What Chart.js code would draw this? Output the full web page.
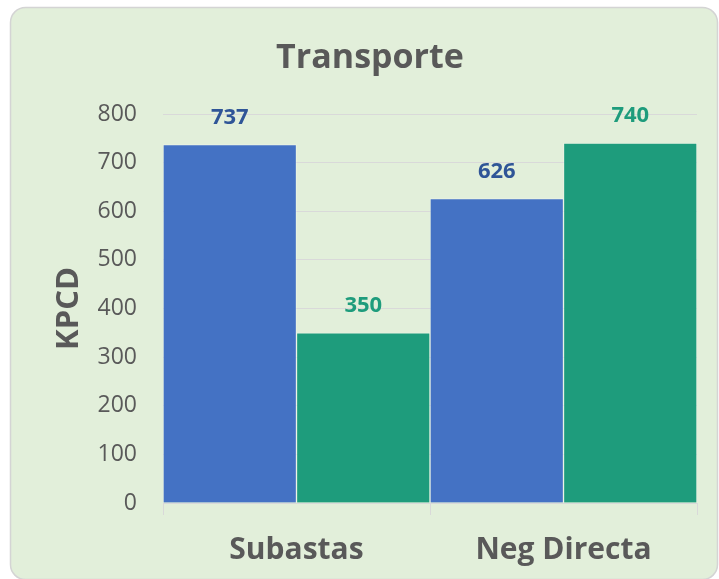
<!DOCTYPE html>
<html><head><meta charset="utf-8">
<script src="https://cdn.jsdelivr.net/npm/chart.js@4"></script>
<style>html,body{margin:0;padding:0;background:#fff;}</style>
</head><body>
<canvas id="c" width="719" height="579"></canvas>
<script>
const categories = ['Subastas', 'Neg Directa'];
const seriesBlue = [737, 626];
const seriesTeal = [350, 740];
const yMin = 0, yMax = 800, yStep = 100;
const titleText = 'Transporte';
const yTitle = 'KPCD';

const FONT = "'Open Sans', sans-serif";
const GREY = '#595959';

const cardPlugin = {
  id: 'card',
  beforeDraw(chart) {
    const ctx = chart.ctx;
    ctx.save();
    ctx.beginPath();
    ctx.roundRect(10.5, 7.5, 707, 572, 15);
    ctx.fillStyle = '#E2EFDA';
    ctx.fill();
    ctx.lineWidth = 1.5;
    ctx.strokeStyle = '#D4D4D4';
    ctx.stroke();
    ctx.restore();
  }
};

const labelPlugin = {
  id: 'barLabels',
  afterDatasetsDraw(chart) {
    const ctx = chart.ctx;
    ctx.save();
    ctx.font = "bold 22px " + FONT;
    ctx.textAlign = 'center';
    ctx.textBaseline = 'middle';
    chart.data.datasets.forEach((ds, di) => {
      const meta = chart.getDatasetMeta(di);
      meta.data.forEach((el, i) => {
        ctx.fillStyle = ds.labelColor;
        ctx.fillText(String(ds.data[i]), el.x, el.y - 27);
      });
    });
    ctx.restore();
  }
};

new Chart(document.getElementById('c'), {
  type: 'bar',
  data: {
    labels: categories,
    datasets: [
      { data: seriesBlue, backgroundColor: '#4472C4', borderColor: 'rgba(255,255,255,0.3)', borderWidth: 1, labelColor: '#2F5597' },
      { data: seriesTeal, backgroundColor: '#1E9C7C', borderColor: 'rgba(255,255,255,0.3)', borderWidth: 1, labelColor: '#1E9C7C' }
    ]
  },
  options: {
    responsive: false,
    animation: false,
    layout: { padding: { left: 43, right: 22, top: 0, bottom: 0 } },
    datasets: { bar: { barPercentage: 1, categoryPercentage: 1 } },
    plugins: {
      legend: { display: false },
      tooltip: { enabled: false },
      title: {
        display: true,
        text: titleText,
        color: GREY,
        font: { family: FONT, size: 34, weight: 'bold', lineHeight: 1.2 },
        padding: { top: 38, bottom: 35.2 }
      }
    },
    scales: {
      x: {
        grid: { offset: true, drawOnChartArea: false, drawTicks: true, tickLength: 12, color: '#D9D9D9' },
        border: { display: true, color: '#D9D9D9' },
        ticks: { color: GREY, font: { family: FONT, size: 30, weight: 'bold' }, padding: 17 },
        afterFit(s) { s.height = 76; }
      },
      y: {
        min: yMin, max: yMax,
        ticks: { stepSize: yStep, color: GREY, font: { family: FONT, size: 23 }, padding: 26 },
        grid: { color: '#D9D9D9', drawTicks: false },
        border: { display: false },
        title: { display: true, text: yTitle, color: GREY, font: { family: FONT, size: 31, weight: 'bold' }, padding: { top: 7.5, bottom: 0 } },
        afterFit(s) { s.width = 120; }
      }
    }
  },
  plugins: [cardPlugin, labelPlugin]
});
</script>
</body></html>
